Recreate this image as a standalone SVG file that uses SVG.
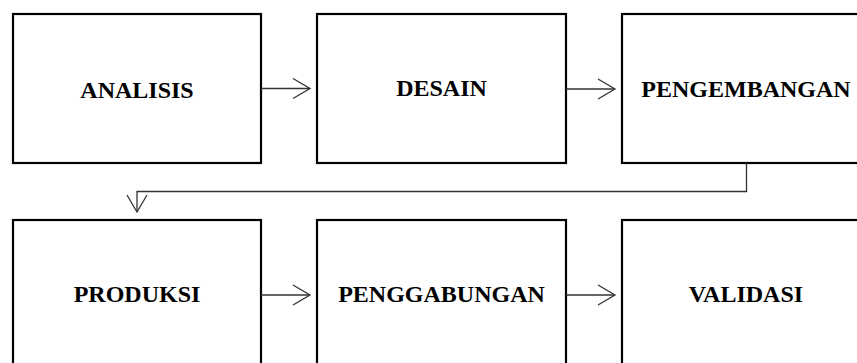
<svg xmlns="http://www.w3.org/2000/svg" width="857" height="363" viewBox="0 0 857 363">
  <style>
    .box { fill: #fff; stroke: #000; stroke-width: 2.2; }
    .lbl { font-family: "Liberation Serif", "Times New Roman", serif; font-weight: bold; font-size: 24px; fill: #000; text-anchor: middle; }
    .link { fill: none; stroke: #333; stroke-width: 1.3; }
  </style>
  <defs>
    <marker id="open" markerUnits="userSpaceOnUse" markerWidth="20" markerHeight="24" viewBox="-18 -12 20 24" refX="0" refY="0" orient="auto">
      <path d="M-17,-10 L0,0 L-17,10" fill="none" stroke="#333" stroke-width="1.3"/>
    </marker>
  </defs>
  <rect width="857" height="363" fill="#fff"/>

  <g id="analisis"><rect class="box" x="13" y="14" width="248" height="149"/><text class="lbl" x="137" y="98">ANALISIS</text></g>
  <g id="desain"><rect class="box" x="317" y="14" width="249" height="149"/><text class="lbl" x="441.5" y="96">DESAIN</text></g>
  <g id="pengembangan"><rect class="box" x="622" y="14" width="249" height="149"/><text class="lbl" x="746" y="97">PENGEMBANGAN</text></g>
  <g id="produksi"><rect class="box" x="13" y="220" width="248" height="160"/><text class="lbl" x="137" y="302">PRODUKSI</text></g>
  <g id="penggabungan"><rect class="box" x="317" y="220" width="249" height="160"/><text class="lbl" x="441.5" y="302">PENGGABUNGAN</text></g>
  <g id="validasi"><rect class="box" x="622" y="220" width="249" height="160"/><text class="lbl" x="746" y="302">VALIDASI</text></g>

  <g id="connectors">
    <path class="link" d="M261,88.5 H310" marker-end="url(#open)"/>
    <path class="link" d="M566,89 H615" marker-end="url(#open)"/>
    <path class="link" d="M746.5,163 V191.5 H137 V212" marker-end="url(#open)"/>
    <path class="link" d="M261,295 H310" marker-end="url(#open)"/>
    <path class="link" d="M566,295 H615" marker-end="url(#open)"/>
  </g>
</svg>
